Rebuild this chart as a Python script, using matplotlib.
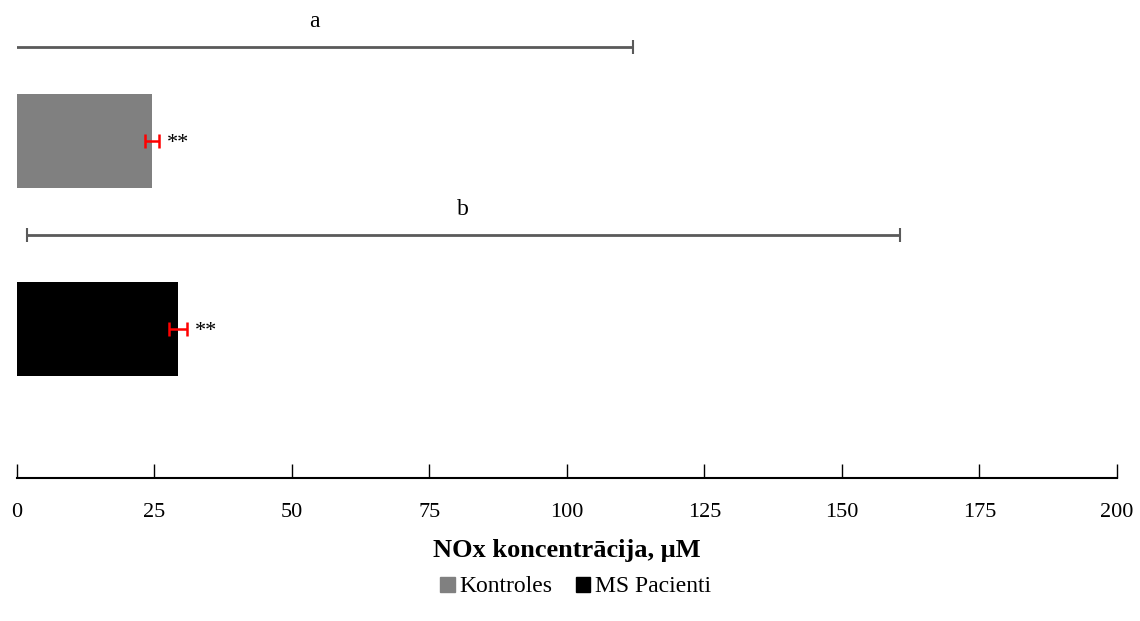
import matplotlib
matplotlib.use("Agg")
import matplotlib.pyplot as plt
from matplotlib.patches import Patch

plt.rcParams["font.family"] = ["Liberation Serif", "DejaVu Serif"]

# data
groups = ["Kontroles", "MS Pacienti"]
means = [24.5, 29.3]
errors = [1.3, 1.6]
bar_colors = ["#808080", "#000000"]
stars = ["**", "**"]
range_low = [-4.0, 1.8]
range_high = [112.0, 160.5]
range_labels = ["a", "b"]

fig = plt.figure(figsize=(11.4, 6.21), dpi=100)
ax = fig.add_axes([0.0149, 0.2303, 0.9649, 0.7697])

ypos = [1, 0]  # Kontroles on top
for y, m, e, c, s in zip(ypos, means, errors, bar_colors, stars):
    ax.barh(y, m, height=0.5, color=c)
    ax.errorbar(m, y, xerr=e, fmt="none", ecolor="red", elinewidth=1.8,
                capsize=5, capthick=1.8)
    ax.text(m + e + 1.5, y - 0.015, s, va="center", ha="left", fontsize=16)

for y, lo, hi, lab in zip(ypos, range_low, range_high, range_labels):
    mid = (lo + hi) / 2
    ax.errorbar(mid, y + 0.5, xerr=(hi - lo) / 2, fmt="none", ecolor="#5a5a5a",
                elinewidth=2, capsize=5, capthick=1.5)
    ax.text(mid, y + 0.5 + 0.08, lab, ha="center", va="bottom", fontsize=17)

ax.set_xlim(0, 200)
ax.set_ylim(-0.793, 1.75)
ax.set_xticks(range(0, 201, 25))
ax.set_yticks([])
for sp in ["top", "right", "left"]:
    ax.spines[sp].set_visible(False)
ax.spines["bottom"].set_linewidth(1.5)
ax.tick_params(axis="x", direction="in", length=10, width=1, labelsize=16, pad=18)
ax.set_xlabel("NOx koncentrācija, μM", fontsize=19, fontweight="bold", labelpad=12)

handles = [Patch(color=c, label=g) for g, c in zip(groups, bar_colors)]
fig.legend(handles=handles, loc="center", bbox_to_anchor=(0.505, 0.055), ncol=2,
           frameon=False, fontsize=17, handlelength=0.6, handleheight=0.6,
           handletextpad=0.2, columnspacing=1.0)

fig.savefig("out.png", dpi=100)
